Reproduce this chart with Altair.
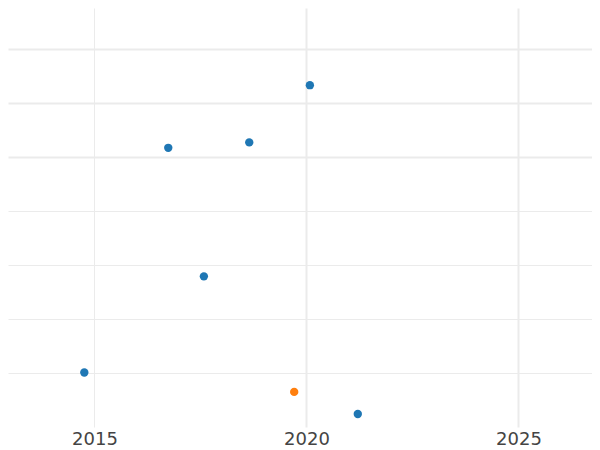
import altair as alt
import pandas as pd

# Data
years = [2014.76, 2016.74, 2018.65, 2020.08, 2017.58, 2019.71, 2021.21]
values = [1.01, 5.17, 5.27, 6.33, 2.79, 0.65, 0.24]
groups = ["A", "A", "A", "A", "A", "B", "A"]

x_ticks = [2015, 2020, 2025]
y_grid = [1, 2, 3, 4, 5, 6, 7]

df = pd.DataFrame({"year": years, "value": values, "group": groups})

chart = (
    alt.Chart(df)
    .mark_circle(size=70, opacity=1)
    .encode(
        x=alt.X(
            "year:Q",
            scale=alt.Scale(domain=[2012.960, 2026.734], nice=False, zero=False),
            axis=alt.Axis(
                values=x_ticks,
                format="d",
                title=None,
                ticks=False,
                tickSize=0,
                domain=False,
                labelFont="DejaVu Sans",
                labelFontSize=18,
                labelColor="#444444",
                labelBaseline="alphabetic",
                labelPadding=17,
                gridColor="#ebebeb",
                gridWidth={"condition": {"test": "datum.value >= 2020", "value": 2}, "value": 1},
            ),
        ),
        y=alt.Y(
            "value:Q",
            scale=alt.Scale(domain=[0, 7.759], nice=False, zero=False),
            axis=alt.Axis(
                values=y_grid,
                labels=False,
                ticks=False,
                domain=False,
                title=None,
                gridColor="#ebebeb",
                gridWidth={"condition": {"test": "datum.value >= 5", "value": 2}, "value": 1},
            ),
        ),
        color=alt.Color(
            "group:N",
            scale=alt.Scale(domain=["A", "B"], range=["#1f77b4", "#ff7f0e"]),
            legend=None,
        ),
    )
    .properties(
        width=584,
        height=419,
        autosize=alt.AutoSizeParams(type="none"),
        padding={"left": 0, "top": 0, "right": 0, "bottom": 23},
    )
    .configure_view(stroke=None)
)

chart.save("out.html", embed_options={"renderer": "svg", "actions": False})
